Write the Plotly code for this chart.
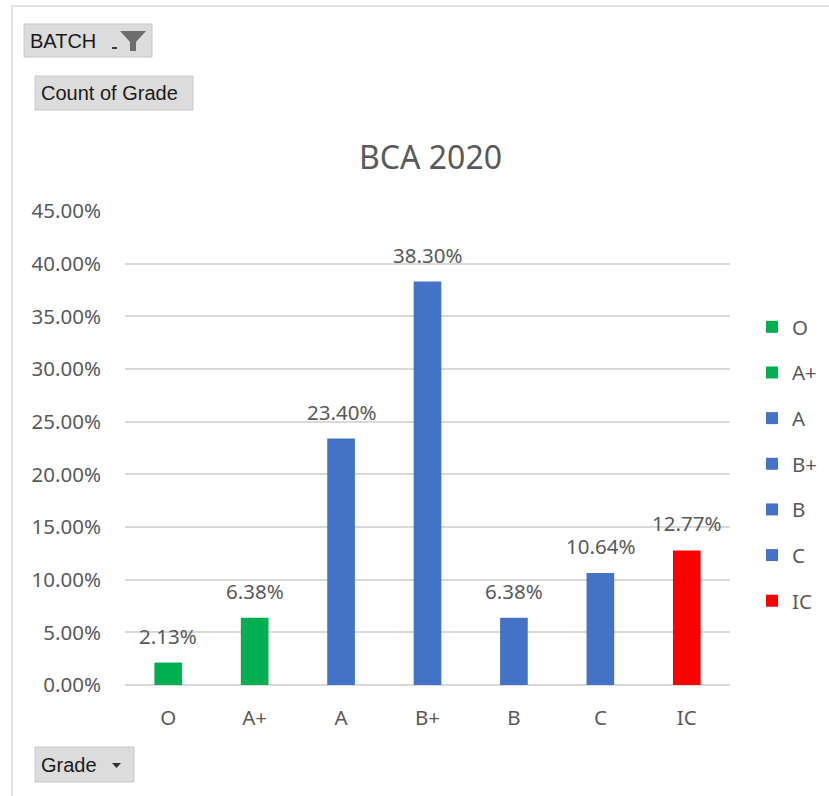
import plotly.graph_objects as go

grades = ["O", "A+", "A", "B+", "B", "C", "IC"]
shares = [0.0213, 0.0638, 0.2340, 0.3830, 0.0638, 0.1064, 0.1277]
labels = ["2.13%", "6.38%", "23.40%", "38.30%", "6.38%", "10.64%", "12.77%"]
colors = ["#00B050", "#00B050", "#4472C4", "#4472C4", "#4472C4", "#4472C4", "#FF0000"]

W, H = 829, 796
L, R, T, B = 125, 730, 211, 685
FONT = "Noto Sans"
BFONT = "Liberation Sans"
GRAY = "#595959"
FS = 20.5

fig = go.Figure()
for i, g in enumerate(grades):
    fig.add_trace(go.Bar(
        x=[g], y=[shares[i]], name=g, width=0.32,
        marker=dict(color=colors[i], line=dict(width=0)),
        legendgroup=g, hoverinfo="x+y",
    ))

def px(x):
    return (x - L) / (R - L)

def py(y):
    return (B - y) / (B - T)

shapes = []
annotations = []
# data labels
for i, g in enumerate(grades):
    annotations.append(dict(x=g, y=shares[i], xref="x", yref="y", text=labels[i],
                            showarrow=False, yanchor="bottom", yshift=11,
                            font=dict(family=FONT, size=FS, color=GRAY)))
# chart border
shapes.append(dict(type="rect", xref="paper", yref="paper",
                   x0=px(12), x1=px(W + 5), y0=py(6), y1=py(H + 5),
                   line=dict(color="#d9d9d9", width=1.5), fillcolor="rgba(0,0,0,0)"))

def button(x0, y0, x1, y1, text, tx):
    shapes.append(dict(type="rect", xref="paper", yref="paper",
                       x0=px(x0), x1=px(x1), y0=py(y0), y1=py(y1),
                       line=dict(color="#c8c8c8", width=1), fillcolor="#dcdcdc", layer="above"))
    annotations.append(dict(xref="paper", yref="paper", x=px(tx), y=py((y0 + y1) / 2),
                            xanchor="left", yanchor="middle", showarrow=False,
                            text=text, font=dict(family=BFONT, size=20, color="#1a1a1a")))

button(24, 24, 152, 57, "BATCH", 28)
button(35, 76, 193, 110, "Count of Grade", 39)
button(35, 747, 134, 782, "Grade", 39)

# funnel icon
shapes.append(dict(type="path", xref="paper", yref="paper",
                   path=f"M {px(120)},{py(31)} L {px(146)},{py(31)} L {px(136)},{py(42)} L {px(136)},{py(51)} L {px(130)},{py(51)} L {px(130)},{py(42)} Z",
                   fillcolor="#6d6d6d", line=dict(width=0), layer="above"))
shapes.append(dict(type="rect", xref="paper", yref="paper",
                   x0=px(112), x1=px(117), y0=py(47), y1=py(49),
                   fillcolor="#404040", line=dict(width=0), layer="above"))
# Grade dropdown arrow
shapes.append(dict(type="path", xref="paper", yref="paper",
                   path=f"M {px(112)},{py(763)} L {px(121)},{py(763)} L {px(116.5)},{py(768)} Z",
                   fillcolor="#303030", line=dict(width=0), layer="above"))

annotations.append(dict(xref="paper", yref="paper", x=px(430), y=py(156),
                        xanchor="center", yanchor="middle", showarrow=False,
                        text="BCA 2020", font=dict(family=FONT, size=32, color=GRAY)))

fig.update_layout(
    width=W, height=H,
    margin=dict(l=L, r=W - R, t=T, b=H - B, autoexpand=False),
    paper_bgcolor="white", plot_bgcolor="white",
    barmode="overlay",
    font=dict(family=FONT, color=GRAY, size=FS),
    showlegend=True,
    legend=dict(x=px(752), y=py(307), xanchor="left", yanchor="top",
                font=dict(size=FS, color=GRAY, family=FONT),
                tracegroupgap=16, itemwidth=30, bgcolor="rgba(0,0,0,0)"),
    xaxis=dict(categoryorder="array", categoryarray=grades, showgrid=False,
               showline=False, ticks="", ticklabelstandoff=18,
               tickfont=dict(size=FS, color=GRAY)),
    yaxis=dict(range=[0, 0.45], dtick=0.05, tickformat=".2%", showgrid=True,
               gridcolor="#d9d9d9", gridwidth=1.5, zeroline=True, zerolinecolor="#d9d9d9",
               zerolinewidth=1.5, showline=False, ticks="", ticklabelstandoff=23,
               tickfont=dict(size=FS, color=GRAY)),
    shapes=shapes, annotations=annotations,
)

fig.write_html("out.html", config={"displayModeBar": False},
               post_script="document.body.style.margin='0';document.body.style.overflow='hidden';")
